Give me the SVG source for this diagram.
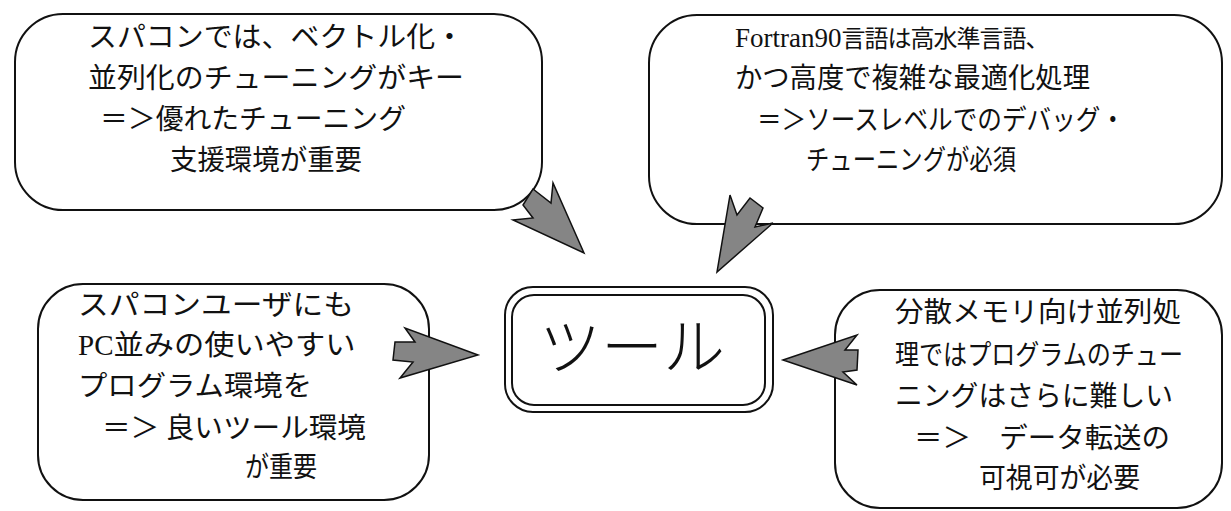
<svg xmlns="http://www.w3.org/2000/svg" width="1231" height="511" viewBox="0 0 1231 511">
<style>
.box{fill:none;stroke:#111;stroke-width:2}
.arrow{fill:#858585;stroke:#111;stroke-width:1.5;stroke-linejoin:miter}
.t{font-family:"Noto Sans CJK JP","Liberation Sans",sans-serif;font-size:28px;fill:#111}
.lat{font-family:"Liberation Serif",serif}
.big{font-family:"Noto Sans CJK JP",sans-serif;font-size:62px;fill:#111;font-weight:300}
</style>
<rect width="1231" height="511" fill="#fff"/>
<g id="node-top-left">
<rect class="box" x="15" y="14" width="527" height="196" rx="48"/>
<text class="t" x="88" y="47" textLength="376" lengthAdjust="spacingAndGlyphs">スパコンでは、ベクトル化・</text>
<text class="t" x="88" y="88" textLength="376" lengthAdjust="spacingAndGlyphs">並列化のチューニングがキー</text>
<text class="t" x="100" y="129" textLength="306" lengthAdjust="spacingAndGlyphs">＝＞優れたチューニング</text>
<text class="t" x="170" y="170" textLength="192" lengthAdjust="spacingAndGlyphs">支援環境が重要</text>
</g>
<g id="node-top-right">
<rect class="box" x="649" y="15" width="573" height="209" rx="48"/>
<text class="t" x="735" y="47"><tspan class="lat" font-size="27">Fortran90</tspan><tspan font-size="24" letter-spacing="-1">言語は高水準言語、</tspan></text>
<text class="t" x="735" y="88" textLength="355" lengthAdjust="spacingAndGlyphs">かつ高度で複雑な最適化処理</text>
<text class="t" x="757" y="130" textLength="368" lengthAdjust="spacingAndGlyphs">＝＞ソースレベルでのデバッグ・</text>
<text class="t" x="806" y="170" textLength="210" lengthAdjust="spacingAndGlyphs">チューニングが必須</text>
</g>
<g id="node-bottom-left">
<rect class="box" x="38" y="284" width="391" height="216" rx="45"/>
<text class="t" x="78" y="315" textLength="276" lengthAdjust="spacingAndGlyphs">スパコンユーザにも</text>
<text class="t" x="78" y="355"><tspan class="lat" font-size="29">PC</tspan><tspan textLength="242" lengthAdjust="spacingAndGlyphs">並みの使いやすい</tspan></text>
<text class="t" x="78" y="396" textLength="234" lengthAdjust="spacingAndGlyphs">プログラム環境を</text>
<text class="t" x="102" y="438" textLength="264" lengthAdjust="spacingAndGlyphs">＝＞ 良いツール環境</text>
<text class="t" x="245" y="477" textLength="72" lengthAdjust="spacingAndGlyphs">が重要</text>
</g>
<g id="node-bottom-right">
<rect class="box" x="835" y="290" width="387" height="218" rx="45"/>
<text class="t" x="895" y="322" textLength="286" lengthAdjust="spacingAndGlyphs">分散メモリ向け並列処</text>
<text class="t" x="895" y="365" textLength="288" lengthAdjust="spacingAndGlyphs">理ではプログラムのチュー</text>
<text class="t" x="895" y="406" textLength="278" lengthAdjust="spacingAndGlyphs">ニングはさらに難しい</text>
<text class="t" x="914" y="448" textLength="256" lengthAdjust="spacingAndGlyphs">＝＞　データ転送の</text>
<text class="t" x="979" y="488" textLength="161" lengthAdjust="spacingAndGlyphs">可視可が必要</text>
</g>
<g id="node-center">
<rect class="box" x="505" y="287" width="268" height="125" rx="28"/>
<rect class="box" x="512" y="295" width="253" height="110" rx="22" stroke-width="1.5"/>
<text class="big" x="632" y="370" text-anchor="middle">ツール</text>
</g>
<g id="connectors">
<polygon class="arrow" points="584,253 553,183 551,203 533,189 523,205 533,218 513,220"/>
<polygon class="arrow" points="717,272 730,195 737,215 750,198 763,208 755,227 773,223"/>
<polygon class="arrow" points="478,355 405,328 415,342 395,342 393,360 413,362 400,378"/>
<polygon class="arrow" points="783,360 857,335 845,350 858,350 857,370 843,372 857,385"/>
</g>
</svg>
